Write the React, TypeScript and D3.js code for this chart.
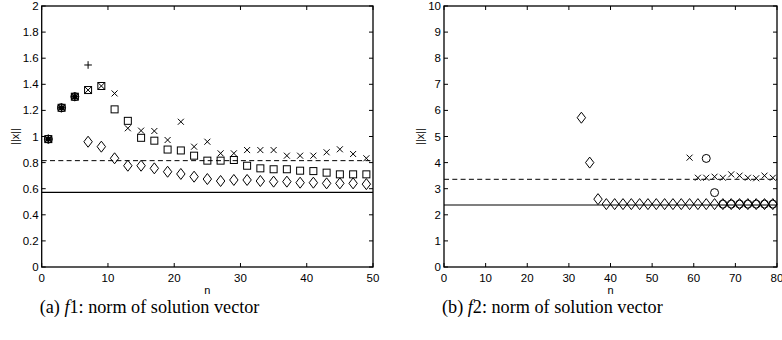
import React from "react";
import * as d3 from "d3";

// f1 panel (a)
const f1SquareN = [1, 3, 5, 7, 9, 11, 13, 15, 17, 19, 21, 23, 25, 27, 29, 31, 33, 35, 37, 39, 41, 43, 45, 47, 49];
const f1SquareV = [0.98, 1.22, 1.305, 1.356, 1.387, 1.208, 1.12, 0.99, 0.968, 0.9, 0.893, 0.853, 0.815, 0.815, 0.82, 0.776, 0.756, 0.749, 0.749, 0.738, 0.735, 0.723, 0.71, 0.71, 0.71];
const f1CrossN = [1, 3, 5, 7, 9, 11, 13, 15, 17, 19, 21, 23, 25, 27, 29, 31, 33, 35, 37, 39, 41, 43, 45, 47, 49];
const f1CrossV = [0.98, 1.22, 1.305, 1.356, 1.387, 1.33, 1.063, 1.045, 1.042, 0.973, 1.113, 0.922, 0.96, 0.871, 0.871, 0.896, 0.896, 0.896, 0.853, 0.853, 0.853, 0.879, 0.902, 0.866, 0.833];
const f1PlusN = [1, 3, 5, 7];
const f1PlusV = [0.98, 1.22, 1.305, 1.548];
const f1CircleN = [1, 3, 5];
const f1CircleV = [0.98, 1.22, 1.305];
const f1StarN = [1, 3, 5];
const f1StarV = [0.98, 1.22, 1.305];
const f1DiamondN = [7, 9, 11, 13, 15, 17, 19, 21, 23, 25, 27, 29, 31, 33, 35, 37, 39, 41, 43, 45, 47, 49];
const f1DiamondV = [0.96, 0.922, 0.833, 0.776, 0.776, 0.756, 0.73, 0.713, 0.692, 0.674, 0.659, 0.667, 0.667, 0.659, 0.654, 0.654, 0.646, 0.646, 0.641, 0.641, 0.641, 0.635];
const f1Dashed = 0.815;
const f1Solid = 0.572;
const f1XTicks = [0, 10, 20, 30, 40, 50];
const f1YTicks = [0, 0.2, 0.4, 0.6, 0.8, 1, 1.2, 1.4, 1.6, 1.8, 2];

// f2 panel (b)
const f2DiamondN = [33, 35, 37, 39, 41, 43, 45, 47, 49, 51, 53, 55, 57, 59, 61, 63, 65, 67, 69, 71, 73, 75, 77, 79];
const f2DiamondV = [5.72, 4.0, 2.6, 2.41, 2.41, 2.41, 2.41, 2.41, 2.41, 2.41, 2.41, 2.41, 2.41, 2.41, 2.41, 2.41, 2.41, 2.41, 2.41, 2.41, 2.41, 2.41, 2.41, 2.41];
const f2CrossN = [59, 61, 63, 65, 67, 69, 71, 73, 75, 77, 79];
const f2CrossV = [4.19, 3.42, 3.42, 3.46, 3.42, 3.55, 3.5, 3.42, 3.4, 3.5, 3.42];
const f2CircleN = [63, 65, 67, 69, 71, 73, 75, 77, 79];
const f2CircleV = [4.16, 2.85, 2.41, 2.41, 2.41, 2.41, 2.41, 2.41, 2.41];
const f2Dashed = 3.36;
const f2Solid = 2.375;
const f2XTicks = [0, 10, 20, 30, 40, 50, 60, 70, 80];
const f2YTicks = [0, 1, 2, 3, 4, 5, 6, 7, 8, 9, 10];

type Series = { kind: string; n: number[]; v: number[] };

const tickFont = "'Liberation Sans', Arial, sans-serif";

function Marker({ kind, cx, cy }: { kind: string; cx: number; cy: number }) {
  const s = { fill: "none", stroke: "#000", strokeWidth: 1 };
  if (kind === "square") return <rect x={cx - 3.5} y={cy - 3.5} width={7} height={7} {...s} />;
  if (kind === "circle") return <circle cx={cx} cy={cy} r={4} {...s} />;
  if (kind === "diamond")
    return <path d={`M${cx},${cy - 5.5}L${cx + 4.2},${cy}L${cx},${cy + 5.5}L${cx - 4.2},${cy}Z`} {...s} />;
  if (kind === "cross")
    return <path d={`M${cx - 3},${cy - 3}L${cx + 3},${cy + 3}M${cx - 3},${cy + 3}L${cx + 3},${cy - 3}`} {...s} />;
  if (kind === "star")
    return (
      <g>
        <circle cx={cx} cy={cy} r={2.6} fill="#000" />
        <path d={`M${cx},${cy - 4.5}L${cx},${cy + 4.5}M${cx - 3.5},${cy - 2.5}L${cx + 3.5},${cy + 2.5}M${cx - 3.5},${cy + 2.5}L${cx + 3.5},${cy - 2.5}`} {...s} />
      </g>
    );
  return <path d={`M${cx - 3.8},${cy}L${cx + 3.8},${cy}M${cx},${cy - 3.8}L${cx},${cy + 3.8}`} {...s} />;
}

function Panel(props: {
  left: number; right: number; top: number; bottom: number; yLabelX: number;
  xMax: number; yMax: number; xTicks: number[]; yTicks: number[];
  series: Series[]; dashed: number; solid: number; caption: [string, string, string];
}) {
  const { left, right, top, bottom, yLabelX, xMax, yMax, xTicks, yTicks, series, dashed, solid, caption } = props;
  const x = d3.scaleLinear().domain([0, xMax]).range([left, right]);
  const y = d3.scaleLinear().domain([0, yMax]).range([bottom, top]);
  const fmt = (v: number) => String(+v.toFixed(1));
  const tl = 4;
  return (
    <g>
      <line x1={x(0)} x2={x(xMax)} y1={y(dashed)} y2={y(dashed)} stroke="#000" strokeWidth={1} strokeDasharray="5,3.3" />
      <line x1={x(0)} x2={x(xMax)} y1={y(solid)} y2={y(solid)} stroke="#000" strokeWidth={1.2} />
      {series.map((s, i) =>
        s.n.map((n, j) => <Marker key={`${i}-${j}`} kind={s.kind} cx={x(n)} cy={y(s.v[j])} />)
      )}
      <rect x={left} y={top} width={right - left} height={bottom - top} fill="none" stroke="#000" strokeWidth={1.3} />
      {xTicks.map((t) => (
        <g key={`x${t}`}>
          <line x1={x(t)} x2={x(t)} y1={bottom} y2={bottom - tl} stroke="#000" />
          <line x1={x(t)} x2={x(t)} y1={top} y2={top + tl} stroke="#000" />
          <text x={x(t)} y={bottom + 15} textAnchor="middle" fontFamily={tickFont} fontSize={11.5}>{t}</text>
        </g>
      ))}
      {yTicks.map((t) => (
        <g key={`y${t}`}>
          <line x1={left} x2={left + tl} y1={y(t)} y2={y(t)} stroke="#000" />
          <line x1={right} x2={right - tl} y1={y(t)} y2={y(t)} stroke="#000" />
          <text x={left - 3} y={y(t) + 4} textAnchor="end" fontFamily={tickFont} fontSize={11.5}>{fmt(t)}</text>
        </g>
      ))}
      <text x={(left + right) / 2} y={bottom + 27} textAnchor="middle" fontFamily={tickFont} fontSize={11}>n</text>
      <text transform={`translate(${yLabelX + 4},${(top + bottom) / 2}) rotate(-90)`} textAnchor="middle"
        fontFamily={tickFont} fontSize={11}>||x||</text>
      <text x={left - 2} y={313} fontFamily="'Liberation Serif', 'Times New Roman', serif" fontSize={18.2}>
        {caption[0]}<tspan fontStyle="italic">{caption[1]}</tspan>{caption[2]}
      </text>
    </g>
  );
}

export default function App() {
  return (
    <svg width={782} height={340} style={{ position: "absolute", left: 0, top: 0, background: "#fff" }}>
      <Panel left={41.7} right={373} top={6} bottom={267} yLabelX={15} xMax={50} yMax={2}
        xTicks={f1XTicks} yTicks={f1YTicks} dashed={f1Dashed} solid={f1Solid}
        series={[
          { kind: "diamond", n: f1DiamondN, v: f1DiamondV },
          { kind: "square", n: f1SquareN, v: f1SquareV },
          { kind: "cross", n: f1CrossN, v: f1CrossV },
          { kind: "plus", n: f1PlusN, v: f1PlusV },
          { kind: "circle", n: f1CircleN, v: f1CircleV },
          { kind: "star", n: f1StarN, v: f1StarV },
        ]}
        caption={["(a) ", "f", "1: norm of solution vector"]} />
      <Panel left={444} right={777} top={6} bottom={267} yLabelX={420} xMax={80} yMax={10}
        xTicks={f2XTicks} yTicks={f2YTicks} dashed={f2Dashed} solid={f2Solid}
        series={[
          { kind: "diamond", n: f2DiamondN, v: f2DiamondV },
          { kind: "cross", n: f2CrossN, v: f2CrossV },
          { kind: "circle", n: f2CircleN, v: f2CircleV },
        ]}
        caption={["(b) ", "f", "2: norm of solution vector"]} />
    </svg>
  );
}
